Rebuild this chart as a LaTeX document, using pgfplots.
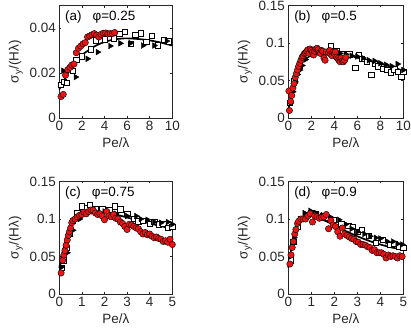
\documentclass[border=0pt]{standalone}
\usepackage{fontspec}
\setmainfont{Liberation Sans}
\usepackage{pgfplots}
\pgfplotsset{compat=1.18}
\definecolor{axgray}{RGB}{38,38,38}
\definecolor{mred}{RGB}{235,20,20}
\pgfplotsset{
  mystyle/.style={
    scale only axis, height=112.5bp,
    axis line style={axgray, line width=0.5bp},
    tick style={axgray, line width=0.5bp},
    tick align=inside, xtick pos=both, ytick pos=both,
    major tick length=2bp,
    xmin=0, ymin=0, clip=false,
    tick label style={font=\fontsize{13.5}{15}\selectfont, text=axgray},
    label style={font=\fontsize{13.5}{15}\selectfont, text=axgray},
    /pgf/number format/assume math mode=true,
    scaled y ticks=false,
    yticklabel style={/pgf/number format/fixed},
    xlabel={Pe/λ}, ylabel={σ\textsubscript{y}/(Hλ)},
  },
  sq/.style={only marks, mark=square*, mark size=2.7bp,
    mark options={fill=white, draw=black, line width=0.4bp}},
  tri/.style={only marks, mark=triangle*, mark size=3.3bp,
    mark options={fill=black, draw=black, rotate=-90}},
  circ/.style={only marks, mark=*, mark size=3.2bp,
    mark options={fill=mred, draw=black, line width=0.4bp}},
  fit/.style={black, line width=1.7bp, no marks, smooth},
}
\newcommand{\lab}[2]{\node[anchor=west, font=\fontsize{13.5}{15}\selectfont, text=black, inner sep=0pt] at (rel axis cs:0.05,0.9) {#1\hspace{11bp}#2};}
\begin{document}
\begin{tikzpicture}
\path[use as bounding box] (0,0) rectangle (411bp,336bp);
% (a)
\begin{axis}[mystyle, width=113bp, at={(59.3bp,218bp)}, anchor=south west,
  xmax=10, ymax=0.05, xtick={0,2,4,6,8,10}, ytick={0,0.02,0.04}]
\addplot[sq] coordinates {(0.15,0.0148)(0.4,0.016)(0.65,0.0158)(1.2,0.021)(1.5,0.026)(2.0,0.0275)(2.8,0.0305)(3.2,0.0345)(4.0,0.035)(4.8,0.0355)(5.3,0.0375)(5.8,0.0384)(6.3,0.033)(6.7,0.0369)(7.2,0.0377)(7.7,0.034)(8.2,0.0365)(8.7,0.0323)(9.25,0.0347)(9.7,0.0342)};
\addplot[tri] coordinates {(0.35,0.021)(1.45,0.0182)(2.5,0.0263)(3.4,0.0293)(4.5,0.032)(5.4,0.0332)(6.3,0.0333)(7.4,0.0322)(8.4,0.0322)(9.5,0.0342)};
\addplot[circ] coordinates {(0.15,0.0095)(0.35,0.0105)(0.55,0.019)(0.75,0.0215)(0.95,0.0225)(1.1,0.0235)(1.3,0.024)(1.5,0.029)(1.7,0.031)(1.9,0.032)(2.1,0.033)(2.3,0.0335)(2.5,0.036)(2.7,0.0365)(2.9,0.037)(3.1,0.0375)(3.3,0.0368)(3.5,0.036)(3.7,0.0372)(3.9,0.0377)(4.1,0.0378)(4.3,0.0374)(4.5,0.0375)(4.7,0.0375)(4.9,0.038)};
\addplot[fit] coordinates {(0,0.0127)(0.5,0.0175)(1,0.022)(1.5,0.0255)(2,0.028)(2.5,0.0298)(3,0.0315)(3.5,0.0328)(4,0.0338)(4.5,0.0345)(5,0.035)(5.5,0.0353)(6,0.0354)(7,0.0351)(8,0.0345)(9,0.0335)(10,0.0322)};
\lab{(a)}{φ=0.25}
\end{axis}
% (b)
\begin{axis}[mystyle, width=115bp, at={(288.3bp,218bp)}, anchor=south west,
  xmax=10, ymax=0.15, xtick={0,2,4,6,8,10}, ytick={0,0.05,0.1,0.15}]
\addplot[sq] coordinates {(0.1,0.02)(0.5,0.05)(1.0,0.07)(1.5,0.085)(2.0,0.089)(2.5,0.09)(3.0,0.088)(3.7,0.096)(4.2,0.089)(4.7,0.086)(5.3,0.085)(5.8,0.067)(6.1,0.084)(6.4,0.079)(6.8,0.075)(7.2,0.058)(7.5,0.072)(7.8,0.069)(8.2,0.066)(8.6,0.064)(8.9,0.061)(9.2,0.065)(9.5,0.062)(9.8,0.055)(10.0,0.062)};
\addplot[tri] coordinates {(0.2,0.02)(0.4,0.035)(0.6,0.048)(0.8,0.058)(1.0,0.064)(1.2,0.07)(1.5,0.078)(2.0,0.085)(2.5,0.088)(3.0,0.089)(3.5,0.088)(4.0,0.087)(4.5,0.086)(5.0,0.085)(5.5,0.083)(6.0,0.082)(6.5,0.08)(7.0,0.077)(7.5,0.076)(8.0,0.073)(8.5,0.071)(9.0,0.069)(9.5,0.072)(10.0,0.064)};
\addplot[circ] coordinates {(0.05,0.036)(0.1,0.010)(0.2,0.022)(0.3,0.030)(0.4,0.040)(0.5,0.046)(0.6,0.054)(0.7,0.059)(0.8,0.064)(0.9,0.069)(1.0,0.073)(1.1,0.077)(1.2,0.081)(1.3,0.083)(1.4,0.086)(1.5,0.087)(1.6,0.089)(1.7,0.091)(1.8,0.086)(1.9,0.092)(2.0,0.090)(2.1,0.088)(2.2,0.084)(2.3,0.089)(2.4,0.092)(2.5,0.093)(2.6,0.091)(2.7,0.087)(2.8,0.086)(2.9,0.090)(3.0,0.089)(3.1,0.080)(3.2,0.077)(3.3,0.088)(3.5,0.087)(3.6,0.090)(3.7,0.085)(3.8,0.083)(3.9,0.088)(4.0,0.086)(4.1,0.088)(4.2,0.081)(4.3,0.079)(4.4,0.077)(4.5,0.075)(4.6,0.080)(4.7,0.076)(4.8,0.075)(4.9,0.077)(5.0,0.081)};
\addplot[fit] coordinates {(0,0.01)(0.25,0.03)(0.5,0.047)(0.75,0.061)(1,0.071)(1.25,0.078)(1.5,0.082)(2,0.0865)(2.5,0.088)(3,0.0885)(3.5,0.088)(4,0.087)(5,0.084)(6,0.0805)(7,0.0765)(8,0.0725)(9,0.068)(10,0.063)};
\lab{(b)}{φ=0.5}
\end{axis}
% (c)
\begin{axis}[mystyle, width=113bp, at={(59.3bp,42bp)}, anchor=south west,
  xmax=5, ymax=0.15, xtick={0,1,2,3,4,5}, ytick={0,0.05,0.1,0.15}]
\addplot[sq] coordinates {(0.1,0.035)(0.2,0.045)(0.3,0.062)(0.45,0.08)(0.6,0.098)(0.8,0.108)(1.0,0.117)(1.2,0.115)(1.35,0.119)(1.6,0.114)(1.9,0.113)(2.2,0.112)(2.45,0.117)(2.7,0.113)(3.0,0.107)(3.3,0.1)(3.5,0.097)(3.7,0.098)(4.0,0.094)(4.2,0.096)(4.4,0.093)(4.6,0.094)(4.8,0.088)(5.0,0.09)};
\addplot[tri] coordinates {(0.1,0.036)(0.35,0.055)(0.6,0.085)(0.9,0.1)(1.2,0.108)(1.5,0.11)(2.0,0.11)(2.5,0.107)(3.0,0.104)(3.4,0.104)(3.6,0.1)(3.9,0.099)(4.2,0.096)(4.5,0.095)(4.8,0.096)(5.0,0.093)};
\addplot[circ] coordinates {(0.08,0.028)(0.15,0.045)(0.2,0.052)(0.25,0.058)(0.3,0.065)(0.35,0.072)(0.4,0.078)(0.45,0.083)(0.5,0.088)(0.55,0.095)(0.6,0.098)(0.7,0.1)(0.8,0.103)(0.9,0.105)(1.0,0.106)(1.1,0.109)(1.2,0.107)(1.3,0.11)(1.4,0.112)(1.5,0.112)(1.6,0.108)(1.7,0.106)(1.8,0.107)(1.9,0.104)(2.0,0.099)(2.1,0.11)(2.2,0.104)(2.3,0.103)(2.4,0.106)(2.5,0.101)(2.6,0.1)(2.7,0.096)(2.8,0.094)(2.9,0.09)(3.0,0.086)(3.1,0.093)(3.2,0.092)(3.3,0.09)(3.4,0.088)(3.5,0.087)(3.6,0.083)(3.7,0.08)(3.8,0.082)(3.9,0.079)(4.0,0.08)(4.1,0.077)(4.2,0.075)(4.3,0.076)(4.4,0.074)(4.5,0.073)(4.6,0.07)(4.7,0.071)(4.8,0.069)(4.9,0.073)(5.0,0.066)};
\addplot[fit] coordinates {(0,0.035)(0.1,0.05)(0.2,0.062)(0.3,0.072)(0.4,0.081)(0.5,0.089)(0.6,0.095)(0.8,0.103)(1.0,0.108)(1.25,0.111)(1.5,0.1115)(1.75,0.111)(2,0.1095)(2.5,0.106)(3,0.102)(3.5,0.098)(4,0.094)(4.5,0.0905)(5,0.087)};
\lab{(c)}{φ=0.75}
\end{axis}
% (d)
\begin{axis}[mystyle, width=115bp, at={(288.3bp,42bp)}, anchor=south west,
  xmax=5, ymax=0.15, xtick={0,1,2,3,4,5}, ytick={0,0.05,0.1,0.15}]
\addplot[sq] coordinates {(0.1,0.045)(0.22,0.07)(0.4,0.09)(0.6,0.1)(0.8,0.106)(1.0,0.108)(1.2,0.107)(1.5,0.104)(1.7,0.102)(1.95,0.099)(2.3,0.094)(2.6,0.091)(2.8,0.09)(3.0,0.083)(3.2,0.0856)(3.5,0.078)(3.8,0.068)(4.1,0.072)(4.4,0.066)(4.6,0.067)(4.8,0.063)(5.0,0.062)};
\addplot[tri] coordinates {(0.1,0.05)(0.25,0.075)(0.5,0.1)(0.7,0.108)(0.95,0.111)(1.2,0.108)(1.5,0.105)(1.8,0.103)(2.2,0.099)(2.5,0.093)(2.75,0.087)(3.0,0.083)(3.3,0.08)(3.55,0.077)(3.8,0.075)(4.0,0.074)(4.3,0.07)(4.55,0.07)(4.75,0.067)(4.95,0.066)};
\addplot[circ] coordinates {(0.07,0.04)(0.12,0.052)(0.17,0.062)(0.22,0.07)(0.28,0.08)(0.33,0.086)(0.4,0.094)(0.45,0.097)(0.55,0.1)(0.65,0.1)(0.75,0.1)(0.85,0.104)(0.95,0.107)(1.05,0.096)(1.15,0.104)(1.25,0.103)(1.35,0.101)(1.45,0.102)(1.55,0.103)(1.65,0.106)(1.75,0.087)(1.85,0.098)(1.95,0.092)(2.05,0.09)(2.15,0.083)(2.25,0.077)(2.35,0.088)(2.45,0.08)(2.55,0.078)(2.65,0.076)(2.75,0.074)(2.85,0.073)(2.95,0.07)(3.05,0.069)(3.15,0.066)(3.25,0.066)(3.35,0.065)(3.45,0.063)(3.55,0.062)(3.65,0.058)(3.75,0.059)(3.85,0.055)(3.95,0.055)(4.05,0.055)(4.15,0.053)(4.25,0.048)(4.35,0.052)(4.45,0.05)(4.55,0.051)(4.65,0.05)(4.75,0.048)(4.85,0.051)(4.95,0.05)};
\addplot[fit] coordinates {(0,0.035)(0.1,0.055)(0.2,0.07)(0.3,0.082)(0.4,0.09)(0.5,0.096)(0.6,0.1)(0.8,0.1035)(1.0,0.104)(1.25,0.102)(1.5,0.099)(2,0.092)(2.5,0.084)(3,0.077)(3.5,0.071)(4,0.066)(4.5,0.062)(5,0.059)};
\lab{(d)}{φ=0.9}
\end{axis}
\end{tikzpicture}
\end{document}
